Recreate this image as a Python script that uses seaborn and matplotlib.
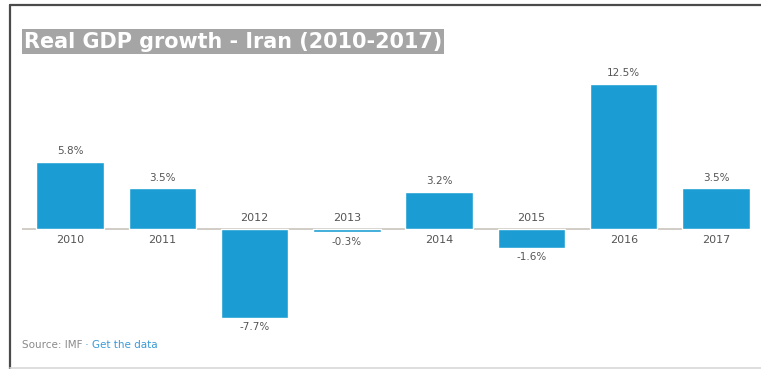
import matplotlib
matplotlib.use("Agg")
import matplotlib.pyplot as plt
from matplotlib.lines import Line2D
import seaborn as sns
import pandas as pd

years = ["2010", "2011", "2012", "2013", "2014", "2015", "2016", "2017"]
growth = [5.8, 3.5, -7.7, -0.3, 3.2, -1.6, 12.5, 3.5]
value_labels = ["5.8%", "3.5%", "-7.7%", "-0.3%", "3.2%", "-1.6%", "12.5%", "3.5%"]
title_text = "Real GDP growth - Iran (2010-2017)"
source_text = "Source: IMF"
link_text = " · Get the data"

sns.set_theme(style="white")
plt.rcParams["font.family"] = ["DejaVu Sans"]

df = pd.DataFrame({"year": years, "growth": growth})

W, H = 761, 369
fig = plt.figure(figsize=(W / 100, H / 100), dpi=100)
fig.patch.set_facecolor("white")

# axes placed in pixel terms
ax_l, ax_r, ax_t, ax_b = 22, 750, 70, 330
ax = fig.add_axes([ax_l / W, 1 - ax_b / H, (ax_r - ax_l) / W, (ax_b - ax_t) / H])

bar_color = "#1b9dd3"
sns.barplot(data=df, x="year", y="growth", order=years, color=bar_color,
            width=0.73, saturation=1, ax=ax)

ax.set_xlim(-0.52, 7.368)
ax.set_ylim(-8.71, 13.71)
ax.axhline(0, color="#c9c3bb", lw=1.2, zorder=0.5)

for s in ax.spines.values():
    s.set_visible(False)
ax.set_xticks([])
ax.set_yticks([])
ax.set_xlabel("")
ax.set_ylabel("")

txt_color = "#555555"
for i, (v, lab) in enumerate(zip(growth, value_labels)):
    if v >= 0:
        ax.annotate(lab, (i, v), xytext=(0, 4), textcoords="offset points",
                    ha="center", va="bottom", fontsize=7.5, color=txt_color)
        ax.annotate(years[i], (i, 0), xytext=(0, -4), textcoords="offset points",
                    ha="center", va="top", fontsize=8, color=txt_color)
    else:
        ax.annotate(lab, (i, v), xytext=(0, -3), textcoords="offset points",
                    ha="center", va="top", fontsize=7.5, color=txt_color)
        ax.annotate(years[i], (i, 0), xytext=(0, 4), textcoords="offset points",
                    ha="center", va="bottom", fontsize=8, color=txt_color)

# title on a grey band, sized to span the band width
title = fig.text(24 / W, 1 - 41.5 / H, title_text, ha="left", va="center",
                 fontsize=14, fontweight="bold", color="white",
                 bbox=dict(boxstyle="square,pad=0.1", facecolor="#a5a5a5", edgecolor="none"))
fig.canvas.draw()
tw = title.get_window_extent().width
title.set_fontsize(14 * 419 / tw)

# source line
src = fig.text(22 / W, 1 - 345 / H, source_text, ha="left", va="center",
               fontsize=7.5, color="#8a8a8a")
fig.canvas.draw()
bb = src.get_window_extent()
fig.text(bb.x1 / W, 1 - 345 / H, link_text, ha="left", va="center",
         fontsize=7.5, color="#3a9ad9")

# page frame lines
fig.add_artist(Line2D([10 / W, 1], [1 - 5 / H, 1 - 5 / H], color="#4a4a4a", lw=1.6))
fig.add_artist(Line2D([10 / W, 10 / W], [1 - 5 / H, 0], color="#4a4a4a", lw=1.6))
fig.add_artist(Line2D([10 / W, 1], [1 - 367.5 / H, 1 - 367.5 / H], color="#d8d8d8", lw=1.2))

fig.savefig("out.png", dpi=100, facecolor="white")
